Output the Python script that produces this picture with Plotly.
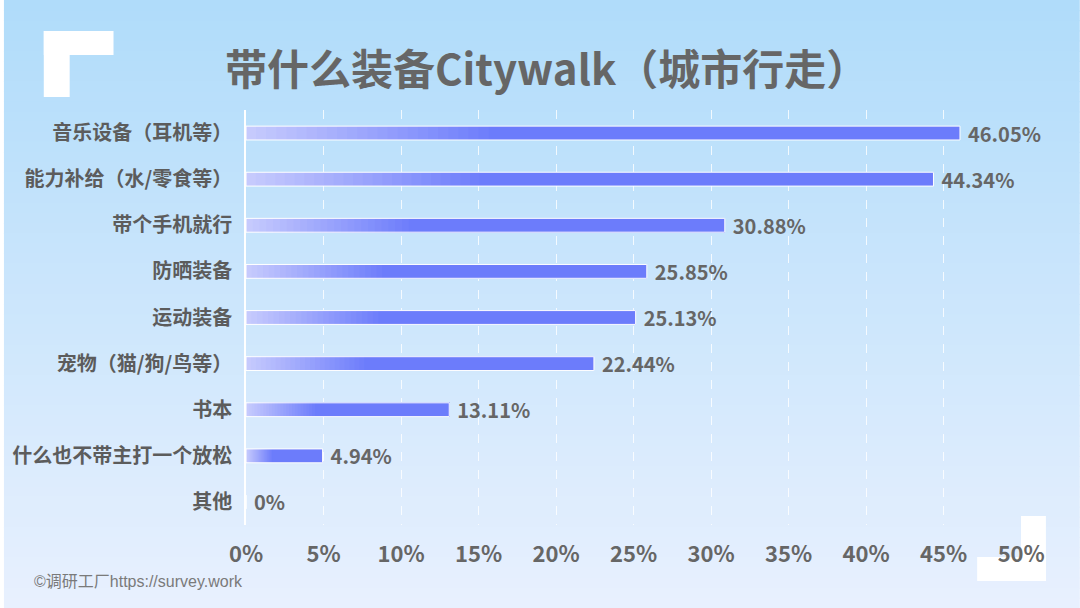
import plotly.graph_objects as go

# 数据
categories = ["音乐设备（耳机等）", "能力补给（水/零食等）", "带个手机就行", "防晒装备",
              "运动装备", "宠物（猫/狗/鸟等）", "书本", "什么也不带主打一个放松", "其他"]
values = [46.05, 44.34, 30.88, 25.85, 25.13, 22.44, 13.11, 4.94, 0]
tick_vals = [0, 5, 10, 15, 20, 25, 30, 35, 40, 45, 50]
tick_text = [f"{v}%" for v in tick_vals]

W, H = 1080, 608
ML, MR, MT, MB = 243, 58, 110, 83
PW, PH = W - ML - MR, H - MT - MB

FONT = "Noto Sans CJK SC"
GRAY = "#666666"


def px_x(p):
    return (p - ML) / PW


def px_y(p):
    return (H - MB - p) / PH


def mix(c1, c2, t):
    return "rgb({},{},{})".format(*[round(a + (b - a) * t) for a, b in zip(c1, c2)])


fig = go.Figure()

# 渐变条：每段从自己的起点一直画到条尾，后一段压住前一段，避免缝隙
light = (198, 202, 253)
solid = (108, 124, 251)
grad_part = 0.34
n_seg = 24
for k in range(n_seg + 1):
    t0 = grad_part * k / n_seg
    fig.add_trace(go.Bar(
        y=categories, x=[v * (1 - t0) for v in values],
        base=[v * t0 for v in values], orientation="h",
        marker=dict(color=mix(light, solid, k / n_seg), line=dict(width=0)),
        width=0.3, hoverinfo="skip", showlegend=False))

# 描边 + 数值标签
fig.add_trace(go.Bar(
    y=categories, x=values, orientation="h",
    marker=dict(color="rgba(0,0,0,0)", line=dict(color="white", width=1)),
    width=0.3,
    text=[f"\u2005{v:g}%" for v in values], textposition="outside",
    textfont=dict(family=FONT, size=20, color=GRAY, weight="bold"),
    cliponaxis=False, constraintext="none", showlegend=False))

# 背景渐变
top_c = (176, 220, 250)
bot_c = (232, 240, 254)
n_bg = 60
for i in range(n_bg):
    y0 = H * i / n_bg
    y1 = H * (i + 1) / n_bg + 1
    fig.add_shape(type="rect", xref="paper", yref="paper", layer="below",
                  x0=px_x(0), x1=px_x(W), y0=px_y(y1), y1=px_y(y0),
                  fillcolor=mix(top_c, bot_c, i / (n_bg - 1)), line=dict(width=0))

# 角落装饰
for (a, b, c, d) in [(40, 66, 31, 97), (40, 110, 31, 55), (1021, 1046, 516, 581), (977, 1046, 557, 581)]:
    fig.add_shape(type="rect", xref="paper", yref="paper", layer="below",
                  x0=px_x(a), x1=px_x(b), y0=px_y(d), y1=px_y(c),
                  fillcolor="white", line=dict(width=0))

fig.add_annotation(text="带什么装备Citywalk（城市行走）", xref="paper", yref="paper",
                   x=px_x(545), y=px_y(67), xanchor="center", yanchor="middle", showarrow=False,
                   font=dict(family=FONT, size=42, color=GRAY, weight="bold"))
fig.add_annotation(text="©调研工厂https://survey.work", xref="paper", yref="paper",
                   x=px_x(28), y=px_y(581), xanchor="left", yanchor="middle", showarrow=False,
                   font=dict(family="Liberation Sans, " + FONT, size=16, color="#7a7a7a"))

fig.update_layout(
    width=W, height=H, margin=dict(l=ML, r=MR, t=MT, b=MB),
    barmode="overlay", bargap=0.7,
    paper_bgcolor="rgba(0,0,0,0)", plot_bgcolor="rgba(0,0,0,0)",
    font=dict(family=FONT, color=GRAY),
)
fig.update_xaxes(range=[0, 50.05], tickvals=tick_vals, ticktext=tick_text,
                 showgrid=True, gridcolor="rgba(255,255,255,0.8)", griddash="dash", gridwidth=1,
                 zeroline=False, showline=False, ticklabelstandoff=14,
                 tickfont=dict(family=FONT, size=22, color=GRAY, weight="bold"))
fig.update_yaxes(autorange="reversed", showgrid=False, zeroline=False,
                 showline=True, linecolor="white", linewidth=1.5, ticklabelstandoff=8,
                 tickfont=dict(family=FONT, size=20, color="#5c5c5c", weight="bold"))

fig.write_html(
    "out.html", config={"displayModeBar": False},
    post_script="document.documentElement.style.margin='0';"
                "document.body.style.margin='0';"
                "document.body.style.overflow='hidden';")
